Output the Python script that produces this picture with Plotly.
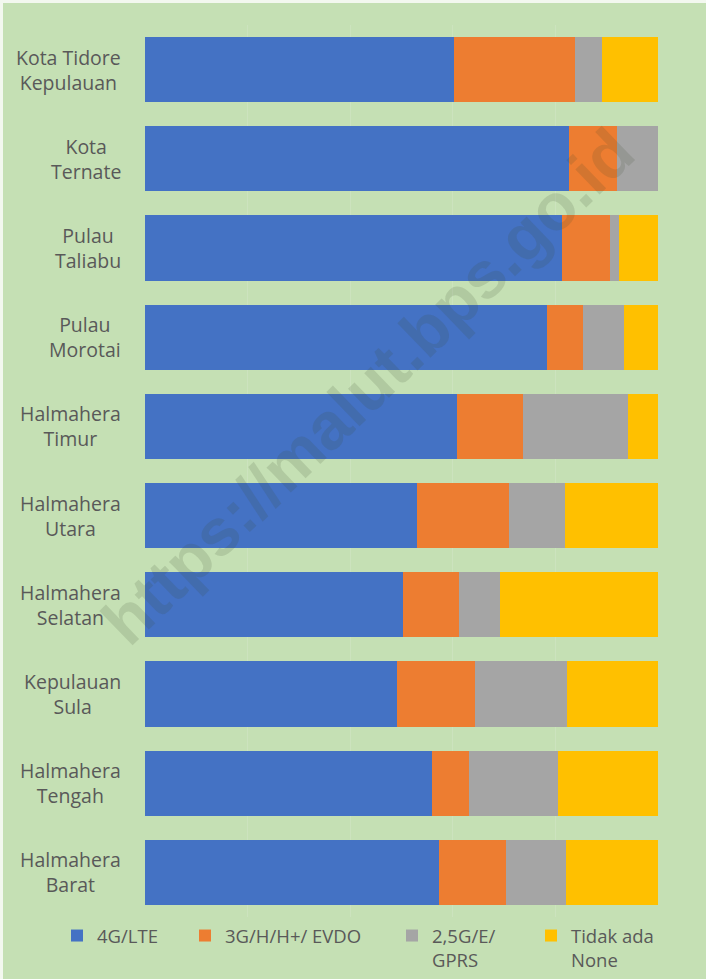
import plotly.graph_objects as go

# ---- data (percent of area) ----
categories = ["Kota Tidore Kepulauan", "Kota Ternate", "Pulau Taliabu", "Pulau Morotai",
              "Halmahera Timur", "Halmahera Utara", "Halmahera Selatan", "Kepulauan Sula",
              "Halmahera Tengah", "Halmahera Barat"]
category_labels = ["Kota Tidore<br>Kepulauan", "Kota<br>Ternate", "Pulau<br>Taliabu", "Pulau<br>Morotai",
                   "Halmahera<br>Timur", "Halmahera<br>Utara", "Halmahera<br>Selatan", "Kepulauan<br>Sula",
                   "Halmahera<br>Tengah", "Halmahera<br>Barat"]
lte = [60.2, 82.6, 81.2, 78.4, 60.9, 53.1, 50.3, 49.2, 56.0, 57.3]
g3 = [23.6, 9.4, 9.5, 7.0, 12.7, 17.9, 11.0, 15.2, 7.2, 13.1]
g25 = [5.3, 8.0, 1.6, 7.9, 20.5, 10.8, 7.9, 17.8, 17.4, 11.7]
none = [10.9, 0.0, 7.7, 6.7, 5.9, 18.2, 30.8, 17.8, 19.4, 17.9]
series_names = ["4G/LTE", "3G/H/H+/ EVDO", "2,5G/E/<br>GPRS", "Tidak ada<br>None"]

colors = ["#4472C4", "#ED7D31", "#A5A5A5", "#FFC000"]
W, H = 706, 979
ML, MR, MT, MB = 145, 48, 25, 62
PW, PH = W - ML - MR, H - MT - MB
BG = "#C5E0B4"
TXT = "#595959"

def px_x(p):
    return (p - ML) / PW

def px_y(p):
    return (H - MB - p) / PH

fig = go.Figure()
legend_ids = ["legend", "legend2", "legend3", "legend4"]
for vals, name, col, lg in zip([lte, g3, g25, none], series_names, colors, legend_ids):
    fig.add_trace(go.Bar(
        y=categories, x=vals, name=name, orientation="h",
        marker=dict(color=col, line=dict(width=0)), legend=lg,
    ))

legend_text_x = [97, 225, 432, 571]
legend_layout = {}
for lg, tx in zip(legend_ids, legend_text_x):
    legend_layout[lg] = dict(
        x=px_x(tx - 40), xanchor="left", y=px_y(917), yanchor="top",
        bgcolor="rgba(0,0,0,0)", borderwidth=0, valign="top",
        font=dict(family="Open Sans, sans-serif", size=18.5, color=TXT),
        itemwidth=30, traceorder="normal",
    )

annotations = []
for cat, lab in zip(categories, category_labels):
    annotations.append(dict(
        x=0, xref="paper", y=cat, yref="y", xanchor="right", xshift=-22,
        text=lab, align="center", showarrow=False,
        font=dict(family="Open Sans, sans-serif", size=19.5, color=TXT),
    ))

# watermark
annotations.append(dict(
    x=px_x(368), y=px_y(386), xref="paper", yref="paper",
    text="https://malut.bps.go.id", showarrow=False, textangle=-44,
    font=dict(family="Liberation Sans, Arial, sans-serif", size=66, color="rgba(60,75,50,0.15)", weight="bold"),
))

fig.update_layout(
    width=W, height=H,
    margin=dict(l=ML, r=MR, t=MT, b=MB, pad=0, autoexpand=False),
    barmode="stack", bargap=0.27,
    paper_bgcolor="#F3F8EF", plot_bgcolor=BG,
    showlegend=True,
    annotations=annotations,
    shapes=[dict(type="rect", xref="paper", yref="paper", layer="below",
                 x0=px_x(3), x1=px_x(W + 2), y0=px_y(H + 2), y1=px_y(3),
                 fillcolor=BG, line=dict(width=0))],
    xaxis=dict(range=[0, 100], dtick=20, showgrid=True, gridcolor="#CCE3BE", gridwidth=1,
               zeroline=False, showticklabels=False, showline=False, fixedrange=True),
    yaxis=dict(autorange="reversed", showticklabels=False, showgrid=False, zeroline=False,
               showline=False, fixedrange=True),
    **legend_layout,
)

fig.write_html("out.html", config={"displayModeBar": False},
               post_script="document.body.style.margin='0';")
